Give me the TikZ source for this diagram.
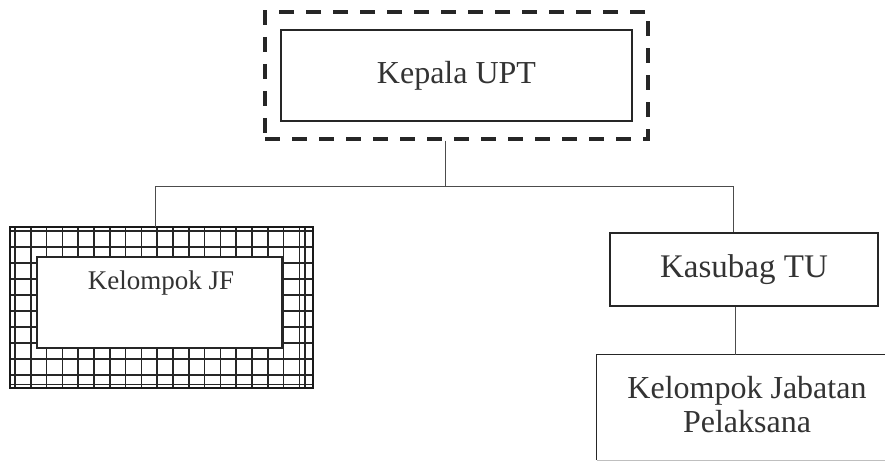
\documentclass[tikz,border=0pt]{standalone}
\usepackage{fontspec}
\setmainfont{Liberation Serif}
\begin{document}
\begin{tikzpicture}[x=1pt,y=-1pt,
  ink/.style={draw=black!85},
  boxa/.style={ink,rectangle,line width=1.3pt,inner sep=0pt,text=black!80},
  conn/.style={draw=black!70,line width=0.8pt},
  gridline/.style={draw=black!85,line width=1.7pt},
  dashbox/.style={draw=black!85,rectangle,line width=3.3pt,dash pattern=on 15pt off 12pt,inner sep=0pt},
  lbl/.style={text=black!80,inner sep=0pt}]
\useasboundingbox (0,0) rectangle (885,462);
\clip (0,0) rectangle (885,462);
% Kepala UPT
\node[dashbox,minimum width=383pt,minimum height=127pt] (kepalaouter) at (456.5,75.5) {};
\node[boxa,minimum width=351pt,minimum height=91pt,font=\fontsize{32}{36}\selectfont] (kepala) at (456.5,75.5) {Kepala UPT};
% Kelompok JF grid box
\node[rectangle,inner sep=0pt,minimum width=303pt,minimum height=161pt] (jf) at (161.5,307.5) {};
\foreach \xx in {0,...,18} {
  \draw[gridline] (15+15.8*\xx,227) -- (15+15.8*\xx,388);
}
\foreach \yy in {0,...,9} {
  \draw[gridline] (10,231+16*\yy) -- (313,231+16*\yy);
}
\draw[gridline] (305,227) -- (305,388);
\draw[gridline] (10,384.5) -- (313,384.5);
\draw[draw=black!90,line width=2pt] (jf.south west) rectangle (jf.north east);
\node[boxa,fill=white,line width=1.4pt,minimum width=245pt,minimum height=91pt] (jfinner) at (159.5,302.5) {};
\node[lbl,font=\fontsize{27}{30}\selectfont] (jftext) at (161,283) {Kelompok JF};
% Kasubag TU
\node[boxa,line width=1.1pt,minimum width=268pt,minimum height=73pt,font=\fontsize{33}{36}\selectfont] (kasubag) at (744,269.5) {Kasubag TU};
% Kelompok Jabatan Pelaksana
\node[rectangle,inner sep=0pt,minimum width=306pt,minimum height=105pt] (pel) at (750,407.5) {};
\draw[draw=black!85,line width=1.1pt] (pel.south west) -- (pel.north west) -- (pel.north east);
\draw[draw=black!25,line width=1pt] (pel.south west) -- (pel.south east);
\node[lbl,align=center,font=\fontsize{32}{34}\selectfont,anchor=north] (peltext) at (747,376) {Kelompok Jabatan\\Pelaksana};
% connectors
\coordinate (j) at (445,186);
\coordinate (jl) at (155,186);
\coordinate (jr) at (733,186);
\draw[conn] (kepalaouter.south -| j) -- (j);
\draw[conn] (jf.north -| jl) -- (jl) -- (jr) -- (kasubag.north -| jr);
\draw[conn] (kasubag.south -| 735,0) -- (pel.north -| 735,0);
\end{tikzpicture}
\end{document}
